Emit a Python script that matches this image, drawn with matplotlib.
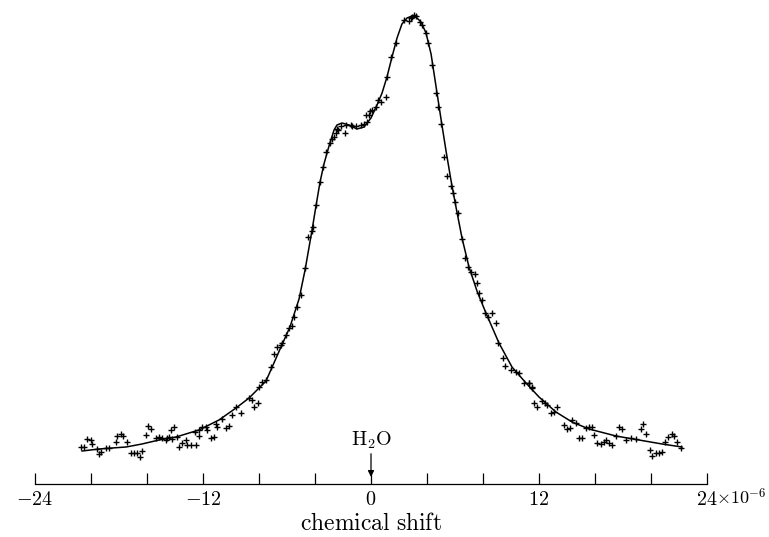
import numpy as np
import matplotlib.pyplot as plt

plt.rcParams['mathtext.fontset'] = 'cm'

# fitted line (chemical shift in ppm, intensity in arbitrary units)
fit_shift = [-20.64, -19.43, -18.5, -17.5, -16.36, -15.14, -13.93, -12.29, -10.86, -9.64,
             -8.71, -7.5, -6.43, -5.79, -5.14, -4.71, -4.21, -3.93, -3.64, -3.36,
             -3.0, -2.64, -2.43, -2.07, -1.57, -1.0, -0.5, 0.0, 0.43, 0.79,
             1.14, 1.5, 1.86, 2.21, 2.57, 2.93, 3.21, 3.57, 3.93, 4.29,
             4.64, 5.0, 5.36, 5.71, 6.07, 6.5, 7.0, 7.57, 8.21, 9.14,
             10.07, 11.07, 12.0, 13.21, 14.36, 15.57, 17.5, 19.14, 20.79, 22.21]
fit_int = [33, 35, 36, 37, 40, 44, 47, 54, 64, 76,
           86, 103, 137, 157, 185, 214, 254, 278, 302, 320,
           338, 354, 359, 361, 359, 355, 357, 366, 379, 391,
           407, 427, 446, 460, 466, 468, 467, 462, 451, 430,
           398, 365, 333, 304, 277, 246, 217, 193, 171, 141,
           117, 101, 87, 72, 62, 55, 48, 44, 40, 37]

# measured points
# left wing
pts_shift = [-20.74, -20.5, -20.26, -19.98, -19.91, -19.43, -19.31, -19.55, -18.95, -18.71,
             -18.24, -18.12, -17.88, -17.71, -17.41, -17.16, -16.93, -16.69, -16.52, -16.38,
             -16.09, -15.91, -15.74, -15.38, -15.14, -14.91, -14.66, -14.31, -14.07, -13.84,
             -13.71, -13.48, -13.24, -13.12, -12.88, -12.52, -12.29, -12.05, -11.81, -11.69,
             -11.45, -11.21, -10.98, -10.62, -10.38, -10.14, -9.91, -9.66,
             -14.6, -14.4, -14.2, -12.6, -12.3, -11.1, -9.29, -8.5, -8.07, -8.36]
pts_int = [37, 37, 45, 44, 40, 30, 32, 35, 36, 36,
           42, 48, 50, 48, 42, 31, 31, 31, 27, 33,
           49, 58, 55, 46, 47, 46, 44, 54, 57, 47,
           37, 41, 44, 39, 39, 39, 48, 57, 57, 54,
           46, 47, 57, 65, 56, 58, 69, 77,
           46, 47, 45, 52, 54, 60, 71, 84, 81, 77]
# central peak
pts_shift += [-8.71, -8.0, -7.79, -7.5, -7.14, -6.93, -6.71, -6.43, -6.36, -6.07,
              -5.86, -5.64, -5.5, -5.29, -5.0, -4.71, -4.5, -4.21, -4.14, -3.93,
              -3.64, -3.43, -3.21, -2.93, -2.79, -2.64, -2.5, -2.43, -2.14, -1.86,
              -1.79, -1.43, -1.07, -0.71, -0.5, -0.29, -0.14, -0.07, -2.36, -1.36,
              -0.36, 0.07, 0.36, 0.5, 0.71, 1.07, 1.14, 1.43, 1.79, 2.36,
              2.71, 2.86, 2.93, 3.07, 3.21, 3.5, 3.64, 3.93, 4.07, 4.36,
              4.64, 4.79, 5.0, 5.21, 5.43, 5.71, 5.86, 6.0, 6.21, 6.5,
              6.71, 6.93, 7.14, 7.43, 7.57, 7.71, 7.93, 8.14, 8.36, 8.64,
              8.93, 9.07, 9.43, 9.57, 10.0, 10.36, 10.57, 10.93, 11.29, 11.5]
pts_int += [86, 97, 102, 104, 117, 130, 137, 139, 141, 149,
            156, 158, 167, 177, 189, 216, 247, 253, 257, 279,
            302, 317, 332, 341, 345, 347, 351, 355, 358, 351,
            359, 359, 358, 359, 360, 362, 369, 373, 354, 358,
            369, 374, 377, 384, 382, 387, 407, 427, 441, 464,
            463, 466, 467, 469, 468, 462, 459, 451, 441, 419,
            391, 377, 360, 327, 308, 298, 291, 282, 271, 245,
            226, 217, 212, 210, 201, 191, 184, 171, 167, 171,
            161, 141, 126, 118, 114, 112, 111, 101, 101, 96]
# right wing
pts_shift += [11.29, 11.52, 11.64, 11.88, 12.24, 12.43, 12.59, 12.84, 13.07, 13.31,
              13.79, 14.02, 14.19, 14.38, 14.62, 14.86, 15.05, 15.34, 15.57, 15.76,
              15.93, 16.16, 16.41, 16.64, 16.81, 17.0, 17.24, 17.48, 17.71, 17.91,
              18.19, 18.55, 18.95, 19.26, 19.45, 19.62, 19.91, 20.09, 20.34, 20.57,
              20.81, 21.0, 21.24, 21.48, 21.64, 21.84, 22.12]
pts_int += [101, 97, 81, 77, 83, 81, 79, 71, 72, 77,
            59, 55, 56, 64, 61, 46, 46, 56, 57, 57,
            49, 41, 40, 42, 44, 41, 39, 48, 57, 55,
            44, 46, 45, 55, 60, 50, 34, 28, 31, 31,
            32, 42, 47, 50, 48, 42, 36]

ticks = np.arange(-24, 25, 4)
tick_labels = ['$-24$', '', '', '$-12$', '', '', '$0$', '', '', '$12$', '', '', '$24$']

fig = plt.figure(figsize=(7.69, 5.37), dpi=100)
ax = fig.add_axes([35/769, 53/537, 672/769, 479/537])

ax.plot(fit_shift, fit_int, color='k', lw=1.1)
ax.plot(pts_shift, pts_int, '+', color='k', ms=4, mew=1.0)

ax.set_xlim(-24, 24)
ax.set_ylim(0, 479)
for s in ['left', 'right', 'top']:
    ax.spines[s].set_visible(False)
ax.spines['bottom'].set_linewidth(0.9)
ax.set_yticks([])
ax.set_xticks(ticks)
ax.set_xticklabels(tick_labels, fontsize=14.5)
ax.tick_params(axis='x', direction='in', length=8, width=0.9, pad=4)

ax.text(24.62, -20.5, r'$\times10^{-6}$', fontsize=13, ha='left', va='baseline')
ax.set_xlabel(r'$\mathrm{chemical\ shift}$', fontsize=17, labelpad=2)

ax.annotate(r'$\mathrm{H_2O}$', xy=(0, 7), xytext=(0, 33), fontsize=14.5,
            ha='center', va='bottom',
            arrowprops=dict(arrowstyle='-|>', color='k', lw=0.9,
                            mutation_scale=9, shrinkA=0, shrinkB=0))

fig.savefig('out.png', dpi=100)
